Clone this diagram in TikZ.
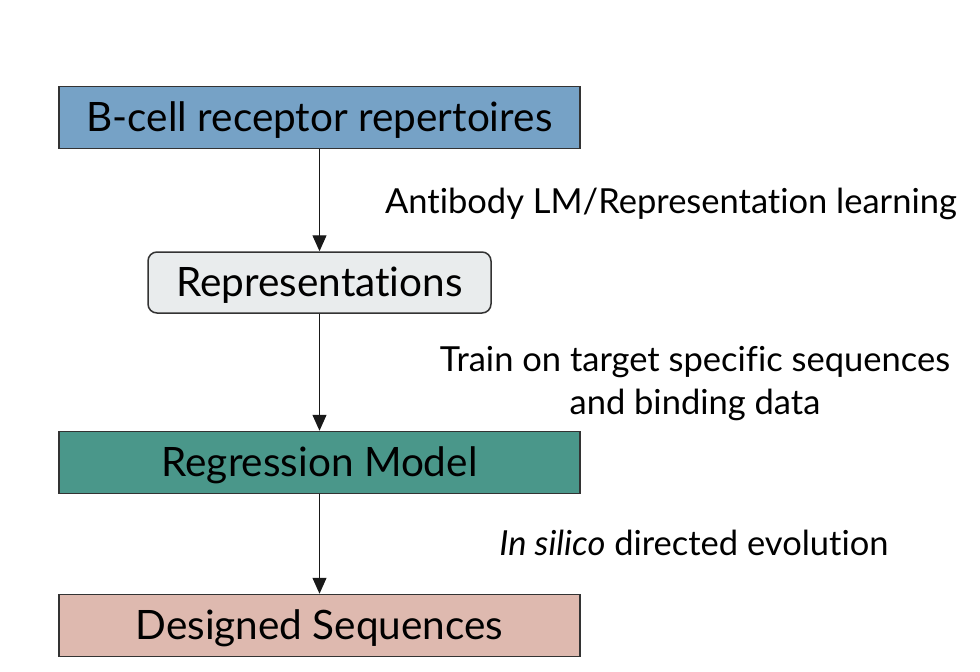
\documentclass[tikz,border=0pt]{standalone}
\usepackage{fontspec}
\setmainfont[Ligatures=NoCommon]{Lato}
\usetikzlibrary{arrows.meta}
\definecolor{cblue}{HTML}{76A2C6}
\definecolor{cgray}{HTML}{E9ECED}
\definecolor{cteal}{HTML}{4A978A}
\definecolor{cpink}{HTML}{DEB9AF}
\definecolor{cline}{HTML}{333333}
\tikzset{
  boxstyle/.style={draw=cline, line width=1.5pt, minimum height=62pt, inner sep=0pt, text height=32pt, text depth=4pt, font=\fontsize{40.5}{44}\selectfont, text=black},
  lbl/.style={font=\fontsize{34.5}{43}\selectfont, align=center, text=black},
  conn/.style={draw=black!90, line width=1.2pt, -{Triangle[width=14pt,length=16pt]}}
}
\begin{document}
\begin{tikzpicture}[x=1pt,y=-1pt]
\useasboundingbox (0,0) rectangle (980,672);
\node[boxstyle, fill=cblue, minimum width=521pt] (b1) at (319.5,117.5) {B-cell receptor repertoires};
\node[boxstyle, fill=cgray, minimum width=343pt, minimum height=61pt, rounded corners=9pt] (b2) at (319.5,282.5) {Representations};
\node[boxstyle, fill=cteal, minimum width=521pt] (b3) at (319.5,462.5) {Regression Model};
\node[boxstyle, fill=cpink, minimum width=521pt] (b4) at (319.5,625.5) {Designed Sequences};
\draw[conn] (b1) -- (b2);
\draw[conn] (b2) -- (b3);
\draw[conn] (b3) -- (b4);
\node[lbl] (l1) at (671,204) {Antibody LM/Representation learning};
\node[lbl] (l2) at (695,383.5) {Train on target specific sequences\\and binding data};
\node[lbl] (l3) at (694,543) {\textit{In silico} directed evolution};
\end{tikzpicture}
\end{document}
